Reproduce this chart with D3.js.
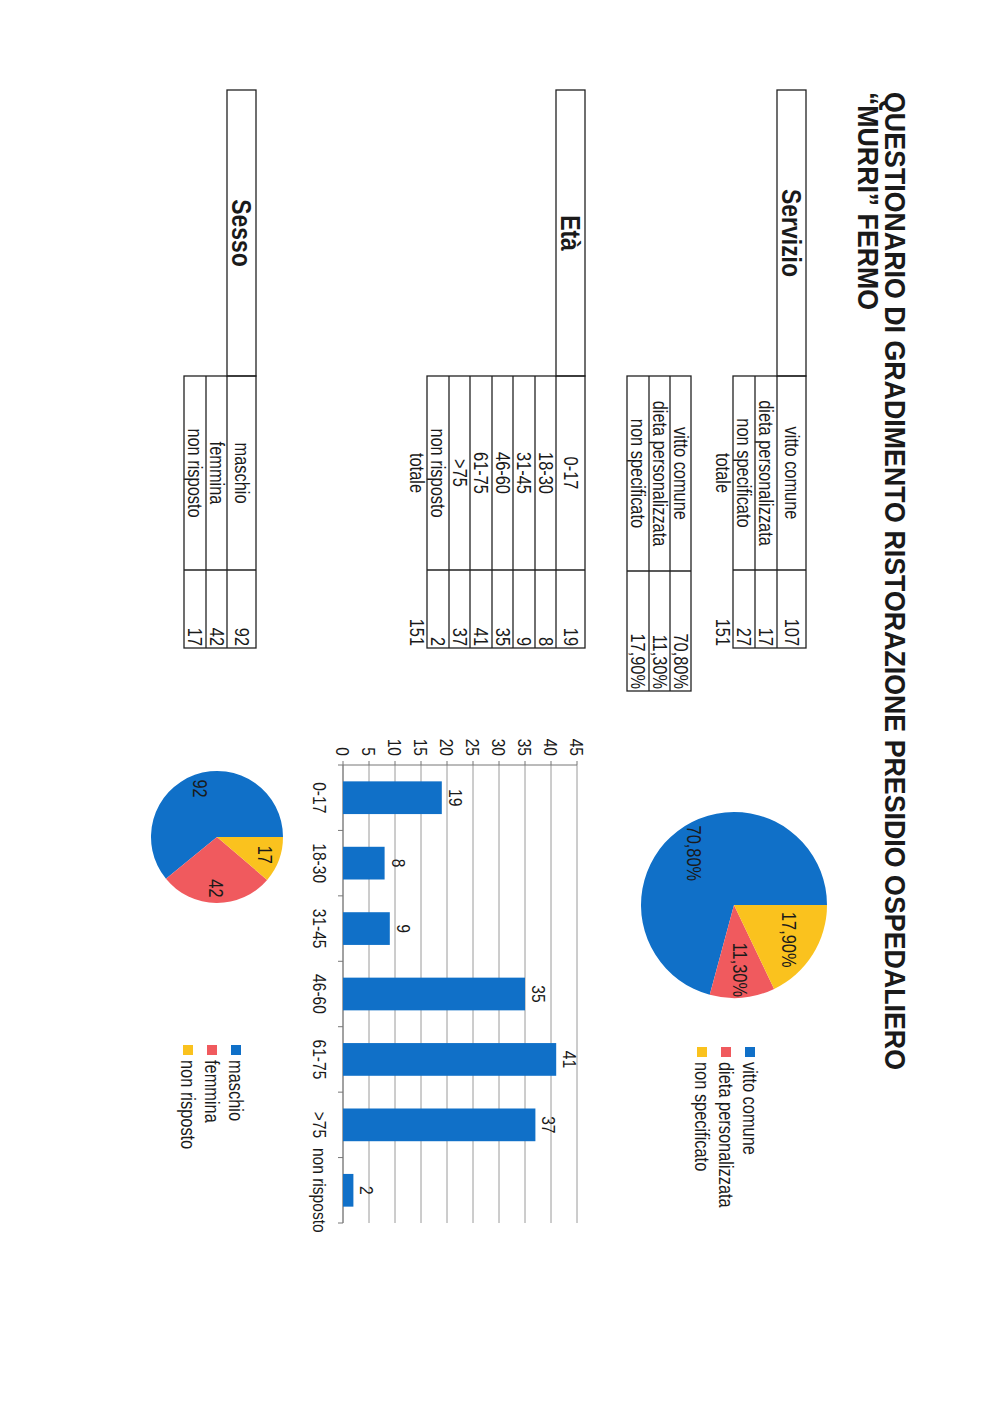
<!DOCTYPE html>
<html>
<head>
<meta charset="utf-8">
<script src="https://cdn.jsdelivr.net/npm/d3@7"></script>
<style>
  html, body { margin: 0; padding: 0; background: #ffffff; }
  svg { display: block; }
  text { font-family: "Liberation Sans", Arial, sans-serif; }
</style>
</head>
<body>
<div id="chart"></div>
<script>
// ---------------- DATA ----------------
const titleLines = ["QUESTIONARIO DI GRADIMENTO RISTORAZIONE PRESIDIO OSPEDALIERO", "\u201cMURRI\u201d FERMO"];

const servizioTitle = "Servizio";
const servizioLabels = ["vitto comune", "dieta personalizzata", "non specificato"];
const servizioValues = [107, 17, 27];
const servizioTotal = 151;
const servizioPercentLabels = ["70,80%", "11,30%", "17,90%"];
const servizioPercents = [70.8, 11.3, 17.9];

const etaTitle = "Età";
const etaLabels = ["0-17", "18-30", "31-45", "46-60", "61-75", ">75", "non risposto"];
const etaValues = [19, 8, 9, 35, 41, 37, 2];
const etaTotal = 151;
const etaTicks = [0, 5, 10, 15, 20, 25, 30, 35, 40, 45];

const sessoTitle = "Sesso";
const sessoLabels = ["maschio", "femmina", "non risposto"];
const sessoValues = [92, 42, 17];

const totaleLabel = "totale";

// ---------------- STYLE ----------------
const colors = ["#1070c8", "#f05a5e", "#fac21e"];
const NARROW = 0.82;
const ink = "#1a1a1a";

const svg = d3.select("#chart").append("svg")
  .attr("width", 1000).attr("height", 1414);
svg.append("rect").attr("width", 1000).attr("height", 1414).attr("fill", "#fff");

// landscape page rotated 90deg clockwise
const g = svg.append("g").attr("transform", "translate(1000,0) rotate(90)");

function ntext(parent, x, y, str, o = {}) {
  return parent.append("text")
    .attr("transform", `translate(${x},${y}) scale(${o.sx || NARROW},1)`)
    .attr("text-anchor", o.anchor || "start")
    .attr("font-size", o.size || 20)
    .attr("font-weight", o.weight || "normal")
    .attr("fill", o.fill || ink)
    .attr("dy", o.dy || null)
    .text(str);
}

// ---------------- TITLE ----------------
g.append("text").attr("x", 92).attr("y", 115)
  .attr("font-size", 30).attr("font-weight", "bold").attr("fill", ink)
  .attr("textLength", 978).attr("lengthAdjust", "spacingAndGlyphs")
  .text(titleLines[0]);
g.append("text").attr("x", 92).attr("y", 142)
  .attr("font-size", 30).attr("font-weight", "bold").attr("fill", ink)
  .attr("textLength", 218).attr("lengthAdjust", "spacingAndGlyphs")
  .text(titleLines[1]);

// ---------------- TABLES ----------------
const colX = [376, 570, 648];
const lineStyle = sel => sel.attr("fill", "none").attr("stroke", "#222").attr("stroke-width", 1.3);

function drawTable(title, rows, labels, values, cols, total) {
  const tg = g.append("g");
  if (title) {
    tg.append("rect").attr("x", 90).attr("y", rows[0]).attr("width", cols[0] - 90)
      .attr("height", rows[1] - rows[0]).call(lineStyle);
    ntext(tg, (90 + cols[0]) / 2, (rows[0] + rows[1]) / 2 + 10, title, { size: 28, weight: "bold", anchor: "middle" });
  }
  const n = labels.length;
  tg.append("rect").attr("x", cols[0]).attr("y", rows[0]).attr("width", cols[2] - cols[0])
    .attr("height", rows[n] - rows[0]).call(lineStyle);
  tg.append("line").attr("x1", cols[1]).attr("x2", cols[1]).attr("y1", rows[0]).attr("y2", rows[n]).call(lineStyle);
  for (let i = 1; i < n; i++) {
    tg.append("line").attr("x1", cols[0]).attr("x2", cols[2]).attr("y1", rows[i]).attr("y2", rows[i]).call(lineStyle);
  }
  labels.forEach((l, i) => {
    const cy = (rows[i] + rows[i + 1]) / 2 + 7;
    ntext(tg, (cols[0] + cols[1]) / 2, cy, l, { anchor: "middle" });
    ntext(tg, cols[2] - 2, cy, values[i], { anchor: "end" });
  });
  if (total !== undefined) {
    const cy = rows[n] + 17;
    ntext(tg, (cols[0] + cols[1]) / 2, cy, totaleLabel, { anchor: "middle" });
    ntext(tg, cols[2] - 2, cy, total, { anchor: "end" });
  }
}

drawTable(servizioTitle, [194, 223, 245, 267], servizioLabels, servizioValues, colX, servizioTotal);
drawTable(null, [309, 330, 351, 373], servizioLabels, servizioPercentLabels, [376, 571, 691]);
drawTable(etaTitle, [415, 444, 465, 487, 508, 530, 551, 573], etaLabels, etaValues, colX, etaTotal);
drawTable(sessoTitle, [744, 773, 794, 816], sessoLabels, sessoValues, colX);

// ---------------- PIE helper ----------------
function drawPie(cx, cy, r, values, labels, labelFrac, legendLabels, legendX, legendY0) {
  const pg = g.append("g").attr("transform", `translate(${cx},${cy})`);
  const pie = d3.pie().sort(null).value(d => d).startAngle(0).endAngle(-2 * Math.PI);
  const arcs = pie(values);
  const arc = d3.arc().innerRadius(0).outerRadius(r);
  const larc = d3.arc().innerRadius(r * labelFrac).outerRadius(r * labelFrac);
  pg.selectAll("path").data(arcs).enter().append("path")
    .attr("d", arc).attr("fill", (d, i) => colors[i]);
  arcs.forEach((a, i) => {
    const c = larc.centroid(a);
    ntext(pg, c[0], c[1], labels[i], { anchor: "middle", dy: "0.35em" });
  });
  const lg = g.append("g");
  legendLabels.forEach((l, i) => {
    const y = legendY0 + i * 24;
    lg.append("rect").attr("x", legendX).attr("y", y - 5).attr("width", 10).attr("height", 10).attr("fill", colors[i]);
    ntext(lg, legendX + 15, y, l, { dy: "0.35em" });
  });
}

drawPie(905, 266, 93, servizioPercents, servizioPercentLabels, 0.70, servizioLabels, 1047, 250);
drawPie(837, 783, 66, sessoValues, sessoValues, 0.78, sessoLabels, 1045, 764);

// ---------------- BAR CHART ----------------
const x = d3.scaleBand().domain(etaLabels).range([765, 1223]).paddingInner(0.5).paddingOuter(0.25);
const y = d3.scaleLinear().domain([0, 45]).range([657, 423]);
const bg = g.append("g");

// gridlines
bg.selectAll("line.grid").data(etaTicks).enter().append("line")
  .attr("x1", x.range()[0]).attr("x2", x.range()[1])
  .attr("y1", d => y(d)).attr("y2", d => y(d))
  .attr("stroke", "#9a9a9a").attr("stroke-width", 1);
// value axis
bg.append("line").attr("x1", x.range()[0]).attr("x2", x.range()[0])
  .attr("y1", y(0)).attr("y2", y(45)).attr("stroke", "#777").attr("stroke-width", 1);
etaTicks.forEach(t => {
  bg.append("line").attr("x1", x.range()[0] - 4).attr("x2", x.range()[0])
    .attr("y1", y(t)).attr("y2", y(t)).attr("stroke", "#777");
  ntext(bg, x.range()[0] - 9, y(t), t, { anchor: "end", dy: "0.35em", size: 19 });
});
// category axis
bg.append("line").attr("x1", x.range()[0]).attr("x2", x.range()[1])
  .attr("y1", y(0)).attr("y2", y(0)).attr("stroke", "#777").attr("stroke-width", 1);
const step = x.step();
etaLabels.forEach((c, i) => {
  const bx = x(c) + x.bandwidth() / 2;
  bg.append("line").attr("x1", bx - step / 2).attr("x2", bx - step / 2)
    .attr("y1", y(0)).attr("y2", y(0) + 5).attr("stroke", "#777");
  ntext(bg, bx, y(0) + 30, c, { anchor: "middle", size: 19 });
});
bg.append("line").attr("x1", x.range()[1]).attr("x2", x.range()[1])
  .attr("y1", y(0)).attr("y2", y(0) + 5).attr("stroke", "#777");

// bars
bg.selectAll("rect.bar").data(etaValues).enter().append("rect")
  .attr("x", (d, i) => x(etaLabels[i]))
  .attr("width", x.bandwidth())
  .attr("y", d => y(d))
  .attr("height", d => y(0) - y(d))
  .attr("fill", colors[0]);
etaValues.forEach((v, i) => {
  ntext(bg, x(etaLabels[i]) + x.bandwidth() / 2, y(v) - 7, v, { anchor: "middle", size: 19 });
});
</script>
</body>
</html>
